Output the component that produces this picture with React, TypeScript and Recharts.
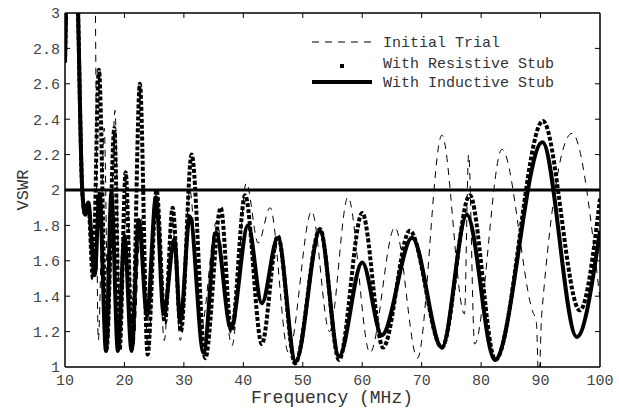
import React from 'react';
import { LineChart, Line, XAxis, YAxis, ReferenceLine, Legend, Label } from 'recharts';

// Initial Trial (dashed)
const initialFreq = [10, 14.9, 15.6, 16.6, 17.3, 18.4, 19.3, 20.4, 21.5, 22.8, 24.0, 25.4, 26.7, 28.0, 29.4, 31.0, 32.8, 35.5, 38.1, 40.5, 42.5, 44.5, 47.6, 51.5, 54.5, 57.6, 61.3, 65.5, 69.3, 73.4, 77.2, 77.9, 78.9, 83.5, 88.6, 89.3, 89.7, 90.2, 95.3, 100];
const initialVswr = [3.8, 3.6, 1.15, 2.35, 1.15, 2.45, 1.15, 1.95, 1.1, 1.85, 1.1, 1.97, 1.15, 1.85, 1.15, 2.0, 1.2, 1.82, 1.12, 2.04, 1.7, 1.9, 1.08, 1.88, 1.2, 1.96, 1.08, 1.79, 1.05, 2.31, 1.3, 2.2, 1.13, 2.23, 1.32, 1.25, 0.9, 1.3, 2.32, 1.38];

// With Resistive Stub (dotted)
const resistiveFreq = [10, 11.3, 12.2, 12.9, 13.4, 13.9, 14.7, 15.7, 17.0, 18.3, 19.2, 20.2, 21.3, 22.6, 23.9, 25.4, 26.8, 28.1, 29.5, 31.3, 33.6, 36.2, 38.0, 40.3, 43.1, 45.8, 48.7, 52.9, 56.1, 60.0, 63.5, 68.0, 73.4, 78.1, 82.4, 90.4, 96.6, 100];
const resistiveVswr = [2.72, 4.2, 3.0, 2.0, 1.86, 1.93, 1.5, 2.68, 1.1, 2.35, 1.1, 2.1, 1.12, 2.6, 1.07, 2.0, 1.25, 1.9, 1.2, 2.2, 1.05, 1.9, 1.2, 1.97, 1.13, 1.74, 1.02, 1.78, 1.04, 1.87, 1.11, 1.77, 1.11, 1.97, 1.04, 2.39, 1.32, 1.95];

// With Inductive Stub (solid)
const inductiveFreq = [10, 11.3, 12.2, 12.9, 13.4, 13.9, 15.0, 15.8, 16.9, 17.8, 18.9, 20.0, 21.2, 22.4, 23.8, 25.3, 26.6, 28.4, 29.4, 31.0, 33.3, 35.4, 37.9, 40.8, 43.1, 45.8, 48.8, 52.9, 56.1, 60.0, 63.3, 68.4, 73.4, 77.6, 82.3, 90.3, 96.1, 100];
const inductiveVswr = [2.72, 4.2, 3.0, 2.0, 1.86, 1.93, 1.52, 1.98, 1.09, 1.98, 1.09, 1.74, 1.09, 1.83, 1.29, 1.96, 1.30, 1.72, 1.26, 1.85, 1.08, 1.76, 1.22, 1.80, 1.36, 1.73, 1.03, 1.77, 1.06, 1.59, 1.18, 1.73, 1.11, 1.86, 1.04, 2.27, 1.17, 1.77];

const xTicks = [10, 20, 30, 40, 50, 60, 70, 80, 90, 100];
const yTicks = [1, 1.2, 1.4, 1.6, 1.8, 2, 2.2, 2.4, 2.6, 2.8, 3];
const yTickLabels = ['1', '1.2', '1.4', '1.6', '1.8', '2', '2.2', '2.4', '2.6', '2.8', '3'];
const limitVswr = 2;

const toPoints = (f: number[], v: number[]) => f.map((x, i) => ({ f: x, v: v[i] }));

const font = '"Liberation Mono", "DejaVu Sans Mono", monospace';
// inward tick length, in axis units (about 5px)
const xTickLen = 0.85;
const yTickLen = 0.028;

function LegendBox() {
  return (
    <svg width={270} height={64}>
      <line x1={7} y1={12} x2={67} y2={12} stroke="#000" strokeWidth={1} strokeDasharray="7 6" />
      <text x={78} y={12} dy="0.35em" fontFamily={font} fontSize={15} fill="#333">Initial Trial</text>
      <rect x={35} y={34} width={4} height={4} fill="#000" />
      <text x={78} y={33} dy="0.35em" fontFamily={font} fontSize={15} fill="#333">With Resistive Stub</text>
      <line x1={7} y1={52} x2={67} y2={52} stroke="#000" strokeWidth={4} />
      <text x={78} y={52} dy="0.35em" fontFamily={font} fontSize={15} fill="#333">With Inductive Stub</text>
    </svg>
  );
}

export default function App() {
  const tickStyle = { fontFamily: font, fontSize: 15, fill: '#444' };
  const tickProps = { xAxisId: 'b', yAxisId: 'l', stroke: '#000', strokeWidth: 1 };
  return (
    <div style={{ position: 'absolute', left: 0, top: 0, background: '#fff' }}>
      <LineChart width={619} height={408} margin={{ top: 13, right: 19, bottom: 0, left: 0 }}>
        <XAxis
          xAxisId="b"
          dataKey="f"
          type="number"
          domain={[10, 100]}
          ticks={xTicks}
          allowDataOverflow
          height={41}
          tickLine={false}
          tickSize={0}
          tickMargin={7}
          tick={tickStyle}
          axisLine={{ stroke: '#000', strokeWidth: 1.5 }}
        >
          <Label
            content={() => (
              <text x={332} y={397} textAnchor="middle" dy="0.35em" fontFamily={font} fontSize={18} fill="#333">
                Frequency (MHz)
              </text>
            )}
          />
        </XAxis>
        <YAxis
          yAxisId="l"
          type="number"
          domain={[1, 3]}
          ticks={yTicks}
          allowDataOverflow
          width={65}
          tickLine={false}
          tickSize={0}
          tickMargin={5}
          tick={tickStyle}
          tickFormatter={(v: number) => yTickLabels[yTicks.indexOf(v)] ?? String(v)}
          axisLine={{ stroke: '#000', strokeWidth: 1.5 }}
        >
          <Label
            content={() => (
              <text x={22} y={190} transform="rotate(-90 22 190)" textAnchor="middle" dy="0.35em" fontFamily={font} fontSize={17} fill="#333">
                VSWR
              </text>
            )}
          />
        </YAxis>

        {/* box edges */}
        <ReferenceLine xAxisId="b" yAxisId="l" y={3} stroke="#000" strokeWidth={1.5} />
        <ReferenceLine xAxisId="b" yAxisId="l" x={100} stroke="#000" strokeWidth={1.5} />

        {/* inward ticks on all four sides */}
        {xTicks.slice(1, -1).map((t) => (
          <ReferenceLine key={'xb' + t} {...tickProps} segment={[{ x: t, y: 1 }, { x: t, y: 1 + yTickLen }]} />
        ))}
        {xTicks.slice(1, -1).map((t) => (
          <ReferenceLine key={'xt' + t} {...tickProps} segment={[{ x: t, y: 3 }, { x: t, y: 3 - yTickLen }]} />
        ))}
        {yTicks.slice(1, -1).map((t) => (
          <ReferenceLine key={'yl' + t} {...tickProps} segment={[{ x: 10, y: t }, { x: 10 + xTickLen, y: t }]} />
        ))}
        {yTicks.slice(1, -1).map((t) => (
          <ReferenceLine key={'yr' + t} {...tickProps} segment={[{ x: 100, y: t }, { x: 100 - xTickLen, y: t }]} />
        ))}

        <ReferenceLine xAxisId="b" yAxisId="l" y={limitVswr} stroke="#000" strokeWidth={3} />
        <Line
          xAxisId="b"
          yAxisId="l"
          data={toPoints(initialFreq, initialVswr)}
          dataKey="v"
          type="monotone"
          stroke="#000"
          strokeWidth={1}
          strokeDasharray="7 6"
          dot={false}
          isAnimationActive={false}
        />
        <Line
          xAxisId="b"
          yAxisId="l"
          data={toPoints(resistiveFreq, resistiveVswr)}
          dataKey="v"
          type="monotone"
          stroke="#000"
          strokeWidth={4}
          strokeDasharray="4 2"
          dot={false}
          isAnimationActive={false}
        />
        <Line
          xAxisId="b"
          yAxisId="l"
          data={toPoints(inductiveFreq, inductiveVswr)}
          dataKey="v"
          type="monotone"
          stroke="#000"
          strokeWidth={4}
          dot={false}
          isAnimationActive={false}
        />
        <Legend
          layout="vertical"
          align="center"
          verticalAlign="middle"
          content={() => <LegendBox />}
          wrapperStyle={{ left: 305, top: 30, width: 270, height: 64 }}
        />
      </LineChart>
    </div>
  );
}
